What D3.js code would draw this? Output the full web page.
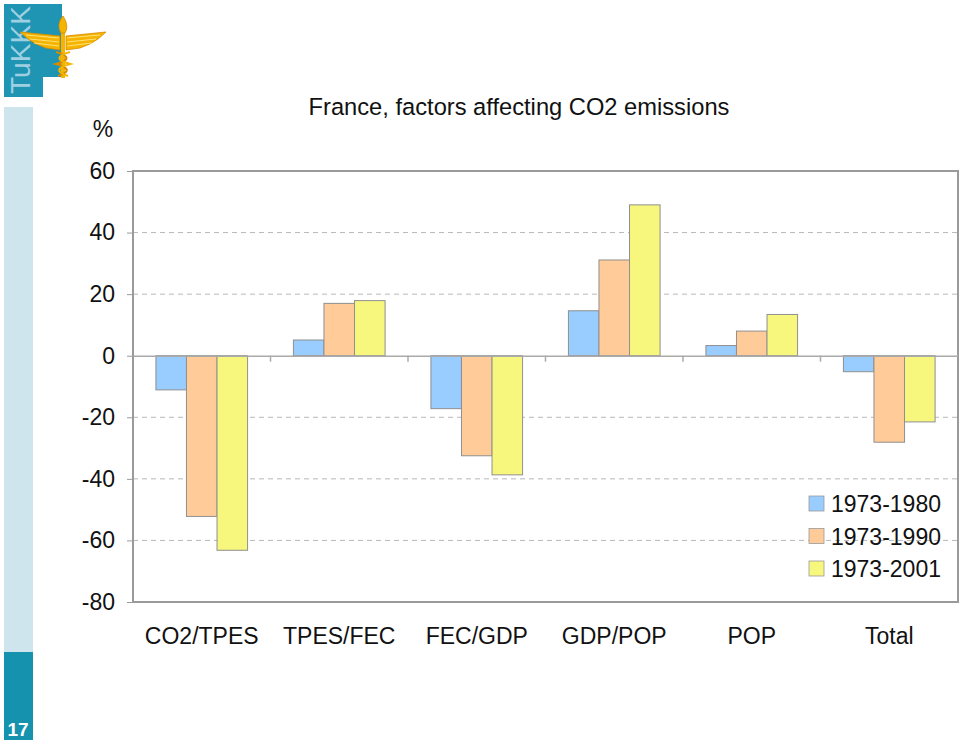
<!DOCTYPE html>
<html>
<head>
<meta charset="utf-8">
<script src="https://cdn.jsdelivr.net/npm/d3@7"></script>
<style>
  body { margin: 0; background: #fff; }
  text { font-family: "Liberation Sans", Arial, sans-serif; }
</style>
</head>
<body>
<div id="chart"></div>
<script>
// data
var categories = ["CO2/TPES", "TPES/FEC", "FEC/GDP", "GDP/POP", "POP", "Total"];
var seriesNames = ["1973-1980", "1973-1990", "1973-2001"];
var s1980 = [-11.1, 5.1, -17.2, 14.6, 3.3, -5.2];
var s1990 = [-52.2, 17.0, -32.5, 31.1, 8.0, -28.1];
var s2001 = [-63.2, 17.9, -38.7, 49.0, 13.4, -21.5];
var yTicks = [-80, -60, -40, -20, 0, 20, 40, 60];
var colors = ["#99ccff", "#ffcc99", "#f7f77e"];

var series = [s1980, s1990, s2001];

var W = 960, H = 744;
var margin = {top: 171, left: 133, bottom: 142, right: 2};
var width = W - margin.left - margin.right;
var height = H - margin.top - margin.bottom;

var svg = d3.select("#chart").append("svg")
    .attr("width", W).attr("height", H);

// ---- slide decoration (left strip + logo) ----
svg.append("rect").attr("x", 4).attr("y", 107).attr("width", 29).attr("height", 545).attr("fill", "#cfe5ee");
svg.append("rect").attr("x", 4).attr("y", 652).attr("width", 29).attr("height", 88).attr("fill", "#1592ad");
svg.append("text").attr("x", 18).attr("y", 736).attr("text-anchor", "middle")
    .attr("font-size", "19px").attr("font-weight", "bold").attr("fill", "#fff").text("17");

var logo = svg.append("g");
logo.append("path").attr("d", "M4,4 H62 V77 H43 V97 H4 Z").attr("fill", "#1f95b3");
logo.append("text").attr("transform", "translate(30,94) rotate(-90)")
    .attr("font-size", "28px").attr("fill", "#9fd0e2")
    .attr("textLength", 88).attr("lengthAdjust", "spacingAndGlyphs")
    .text("TuKKK");
// wings
var gold = "#f4b400", goldDark = "#d88a00";
logo.append("path").attr("d", "M60,36 L20,32 L28,39 L36,44 L46,48 L60,50 Z")
    .attr("fill", gold).attr("stroke", goldDark).attr("stroke-width", 0.8);
logo.append("path").attr("d", "M66,36 L106,32 L98,39 L90,44 L80,48 L66,50 Z")
    .attr("fill", gold).attr("stroke", goldDark).attr("stroke-width", 0.8);
[36, 40, 44].forEach(function(yy) {
  logo.append("line").attr("x1", 26 + (yy - 36)).attr("x2", 59).attr("y1", yy - 1).attr("y2", yy + 2)
      .attr("stroke", "#ffe27a").attr("stroke-width", 1);
  logo.append("line").attr("x1", 100 - (yy - 36)).attr("x2", 67).attr("y1", yy - 1).attr("y2", yy + 2)
      .attr("stroke", "#ffe27a").attr("stroke-width", 1);
});
// staff, flame and snakes
logo.append("rect").attr("x", 61).attr("y", 28).attr("width", 4).attr("height", 50).attr("fill", gold);
logo.append("path").attr("d", "M63,16 C58,22 58,28 61,33 L65,33 C68,28 67,22 63,16 Z")
    .attr("fill", gold).attr("stroke", goldDark).attr("stroke-width", 0.8);
logo.append("path").attr("d", "M56,52 C70,56 70,60 56,64 C70,68 70,72 58,76")
    .attr("fill", "none").attr("stroke", goldDark).attr("stroke-width", 2.2);
logo.append("path").attr("d", "M70,52 C56,56 56,60 70,64 C56,68 56,72 68,76")
    .attr("fill", "none").attr("stroke", gold).attr("stroke-width", 2.2);

// ---- titles ----
svg.append("text").attr("x", 519).attr("y", 115).attr("text-anchor", "middle")
    .attr("font-size", "23.7px").attr("fill", "#111").text("France, factors affecting CO2 emissions");
svg.append("text").attr("x", 103).attr("y", 137).attr("text-anchor", "middle")
    .attr("font-size", "23px").attr("fill", "#111").text("%");

var g = svg.append("g").attr("transform", "translate(" + margin.left + "," + margin.top + ")");

var x = d3.scaleBand().domain(categories).range([0, width]);
var xSub = d3.scaleBand().domain(d3.range(series.length)).range([0, x.bandwidth()])
    .paddingInner(0).paddingOuter(0.75);
var y = d3.scaleLinear().domain([-80, 60]).range([height, 0]);

// gridlines
g.selectAll(".grid").data(yTicks.filter(function(d) { return d !== 0 && d !== 60 && d !== -80; }))
  .enter().append("line").attr("class", "grid")
    .attr("x1", 0).attr("x2", width)
    .attr("y1", function(d) { return y(d); }).attr("y2", function(d) { return y(d); })
    .attr("stroke", "#b8b8b8").attr("stroke-width", 1).attr("stroke-dasharray", "5,4");

// frame
g.append("rect").attr("x", 0).attr("y", 0).attr("width", width).attr("height", height)
    .attr("fill", "none").attr("stroke", "#9a9a9a").attr("stroke-width", 2);

// bars
var groups = g.selectAll(".cat").data(categories).enter().append("g")
    .attr("transform", function(d) { return "translate(" + x(d) + ",0)"; });
groups.selectAll("rect").data(function(d, i) {
    return series.map(function(s, k) { return {k: k, v: s[i]}; });
  }).enter().append("rect")
    .attr("x", function(d) { return xSub(d.k); })
    .attr("width", xSub.bandwidth())
    .attr("y", function(d) { return y(Math.max(0, d.v)); })
    .attr("height", function(d) { return Math.abs(y(d.v) - y(0)); })
    .attr("fill", function(d) { return colors[d.k]; })
    .attr("stroke", "#8f8f8f").attr("stroke-width", 1);

// zero axis with category ticks
var xAxis = d3.axisBottom(x).tickSize(0).tickFormat("");
g.append("g").attr("transform", "translate(0," + y(0) + ")").call(xAxis)
  .call(function(s) { s.select(".domain").attr("stroke", "#aaaaaa").attr("stroke-width", 1.5); });
g.selectAll(".ctick").data(categories.slice(1)).enter().append("line")
    .attr("x1", function(d) { return x(d); }).attr("x2", function(d) { return x(d); })
    .attr("y1", y(0)).attr("y2", y(0) + 6)
    .attr("stroke", "#aaaaaa").attr("stroke-width", 1.5);

// category labels
g.selectAll(".clab").data(categories).enter().append("text")
    .attr("x", function(d) { return x(d) + x.bandwidth() / 2; })
    .attr("y", height + 42)
    .attr("text-anchor", "middle").attr("font-size", "23px").attr("fill", "#111")
    .text(function(d) { return d; });

// y axis (plain hyphen for negatives, like the slide)
var yAxis = d3.axisLeft(y).tickValues(yTicks).tickSize(6).tickPadding(12)
    .tickFormat(function(d) { return String(d); });
var ya = g.append("g").call(yAxis);
ya.select(".domain").remove();
ya.selectAll("line").attr("stroke", "#9a9a9a");
ya.selectAll("text").attr("font-size", "23px").attr("fill", "#111")
    .attr("font-family", "Liberation Sans, Arial, sans-serif");

// legend
var legend = g.append("g").attr("transform", "translate(676,325)");
var li = legend.selectAll("g").data(seriesNames).enter().append("g")
    .attr("transform", function(d, i) { return "translate(0," + (i * 32.5) + ")"; });
li.append("rect").attr("x", 0).attr("y", 0).attr("width", 15).attr("height", 15)
    .attr("fill", function(d, i) { return colors[i]; })
    .attr("stroke", "#9a9a9a").attr("stroke-width", 0.8);
li.append("text").attr("x", 22).attr("y", 16)
    .attr("font-size", "23px").attr("fill", "#111").text(function(d) { return d; });
</script>
</body>
</html>
